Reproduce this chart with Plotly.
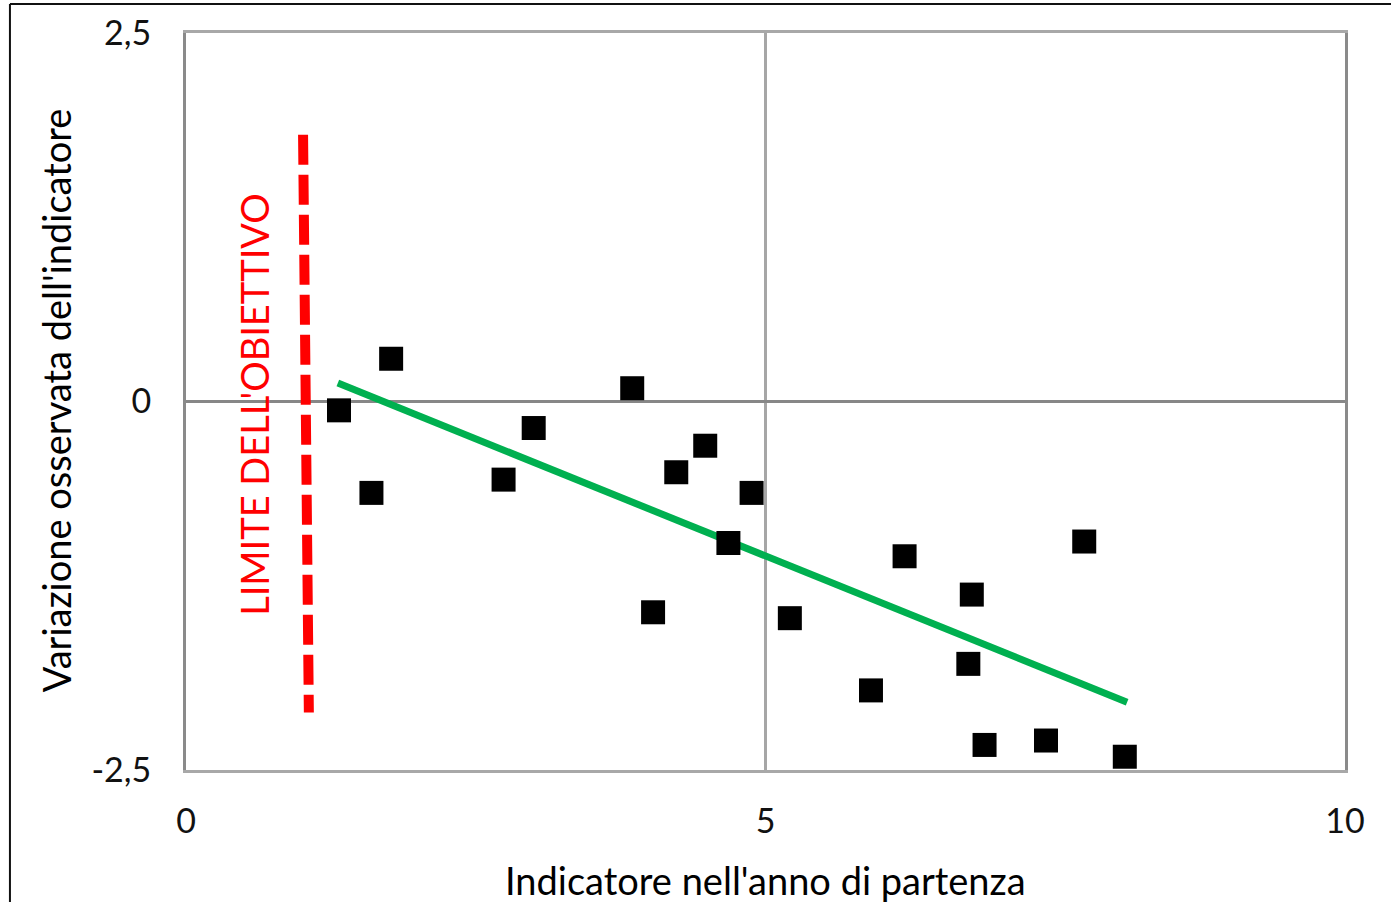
import plotly.graph_objects as go

# Data
x_vals = [1.32, 1.77, 1.60, 2.74, 3.00, 3.85, 4.03, 4.23, 4.48, 4.68,
          4.88, 5.21, 5.91, 6.20, 6.75, 6.78, 6.89, 7.42, 7.75, 8.10]
y_vals = [-0.06, 0.29, -0.62, -0.53, -0.18, 0.09, -1.43, -0.48, -0.30, -0.96,
          -0.62, -1.47, -1.96, -1.05, -1.78, -1.31, -2.33, -2.30, -0.95, -2.41]

trend_x = [1.31, 8.12]
trend_y = [0.125, -2.04]

limit_x = [1.01, 1.06]
limit_y = [1.81, -2.11]

x_ticks = [0, 5, 10]
x_tick_text = ["0", "5", "10"]
y_ticks = [-2.5, 0, 2.5]
y_tick_text = ["-2,5", "0", "2,5"]

FONT = "Lato"

fig = go.Figure()

fig.add_trace(go.Scatter(
    x=limit_x, y=limit_y, mode="lines",
    line=dict(color="#FF0000", width=10, dash="30px,10px"),
    showlegend=False, hoverinfo="skip"))

fig.add_trace(go.Scatter(
    x=trend_x, y=trend_y, mode="lines",
    line=dict(color="#00B050", width=7),
    showlegend=False, hoverinfo="skip"))

fig.add_trace(go.Scatter(
    x=x_vals, y=y_vals, mode="markers",
    marker=dict(symbol="square", size=24, color="black", line=dict(width=0)),
    showlegend=False))

fig.add_annotation(
    x=0.59, y=-0.02, xref="x", yref="y",
    text="LIMITE DELL'OBIETTIVO", textangle=-90, showarrow=False,
    font=dict(family=FONT, size=38, color="#FF0000"))

fig.add_annotation(
    x=0.5, y=-0.149, xref="paper", yref="paper",
    text="Indicatore nell'anno di partenza", showarrow=False,
    xanchor="center", yanchor="middle",
    font=dict(family=FONT, size=38, color="black"))

fig.add_annotation(
    x=-0.112, y=0.502, xref="paper", yref="paper",
    text="Variazione osservata dell'indicatore", textangle=-90, showarrow=False,
    xanchor="center", yanchor="middle",
    font=dict(family=FONT, size=38, color="black"))

# Outer frame (partial, as in the reference crop)
fig.add_shape(type="line", xref="paper", yref="paper",
              x0=-0.1519, x1=-0.1519, y0=1.0394, y1=-0.2,
              line=dict(color="#111111", width=2))
fig.add_shape(type="line", xref="paper", yref="paper",
              x0=-0.1519, x1=1.05, y0=1.0394, y1=1.0394,
              line=dict(color="#111111", width=2))

fig.update_xaxes(
    range=[0, 10], tickvals=x_ticks, ticktext=x_tick_text,
    showgrid=True, gridcolor="#a6a6a6", gridwidth=3,
    zeroline=True, zerolinecolor="#878787", zerolinewidth=3,
    showline=True, linecolor="#a8a8a8", linewidth=3, mirror=True,
    ticks="", ticklabelstandoff=19,
    tickfont=dict(family=FONT, size=34, color="#111111"),
    fixedrange=True)

fig.update_yaxes(
    range=[-2.5, 2.5], tickvals=y_ticks, ticktext=y_tick_text,
    showgrid=True, gridcolor="#a6a6a6", gridwidth=3,
    zeroline=True, zerolinecolor="#878787", zerolinewidth=3,
    showline=True, linecolor="#8a8a8a", linewidth=3, mirror=True,
    ticks="", ticklabelstandoff=25,
    tickfont=dict(family=FONT, size=34, color="#111111"),
    fixedrange=True)

fig.update_layout(
    width=1391, height=902,
    margin=dict(l=186, r=46, t=33, b=132),
    plot_bgcolor="white", paper_bgcolor="white",
    showlegend=False)

fig.write_html(
    "out.html",
    config={"displayModeBar": False},
    post_script="document.body.style.margin='0';document.body.style.overflow='hidden';")
